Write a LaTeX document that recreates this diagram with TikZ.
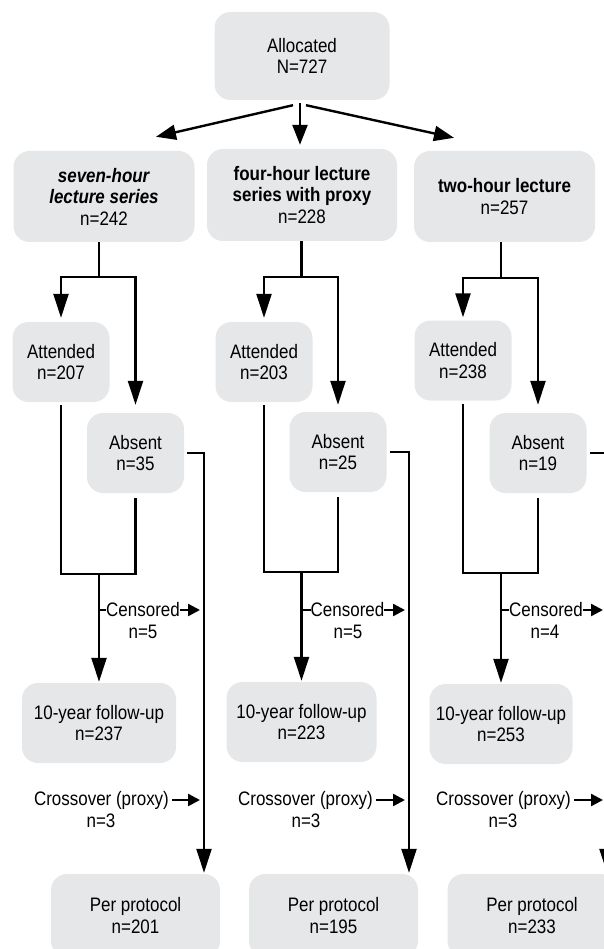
\documentclass[tikz,border=0pt]{standalone}
\usepackage{fontspec}
\setmainfont{Liberation Sans}[FakeStretch=0.87]
\usetikzlibrary{arrows.meta}
\definecolor{boxgray}{RGB}{230,231,232}

\begin{document}
\begin{tikzpicture}[line join=miter,>={Triangle[length=24pt,width=15pt]},x=1pt,y=-1pt,
	box/.style={fill=boxgray,rounded corners=16pt,inner sep=0pt,align=center,font=\fontsize{19.5}{21.5}\selectfont},
	lbl/.style={inner sep=0pt,align=center,font=\fontsize{19.5}{21.5}\selectfont},
	link/.style={line width=2.4pt},
	outarrow/.style={line width=2.4pt,-{Triangle[length=12pt,width=12pt]},shorten >=4pt}]
			\useasboundingbox (0,0) rectangle (604,949);
			\clip (0,0) rectangle (604,949);
			%%%%%%%%%%%%%%% B O X E S %%%%%%%%%%%%%%%%
			%top
			\node[box,minimum width=175pt,minimum height=88pt] (alloc) at (302,56) {Allocated\\N=727};
			%groups
			\node[box,minimum width=181pt,minimum height=91pt] (g7) at (104,196.5) {\textbf{\textit{seven-hour}}\\\textbf{\textit{lecture series}}\\n=242};
			\node[box,minimum width=190pt,minimum height=92pt] (g4) at (302,195) {\textbf{four-hour lecture}\\\textbf{series with proxy}\\n=228};
			\node[box,minimum width=181pt,minimum height=91pt] (g2) at (504.5,196.5) {\textbf{two-hour lecture}\\n=257};
			%attended
			\node[box,minimum width=97pt,minimum height=80pt] (att7) at (61,362) {Attended\\n=207};
			\node[box,minimum width=97pt,minimum height=80pt] (att4) at (264,362) {Attended\\n=203};
			\node[box,minimum width=97pt,minimum height=80pt] (att2) at (463,360.5) {Attended\\n=238};
			%absent
			\node[box,minimum width=97pt,minimum height=80pt] (abs7) at (135.5,453) {Absent\\n=35};
			\node[box,minimum width=97pt,minimum height=80pt] (abs4) at (338,452) {Absent\\n=25};
			\node[box,minimum width=97pt,minimum height=80pt] (abs2) at (538,453) {Absent\\n=19};
			%follow-up
			\node[box,minimum width=154pt,minimum height=80pt] (fu7) at (99,723) {10-year follow-up\\n=237};
			\node[box,minimum width=150pt,minimum height=80pt] (fu4) at (301.5,722) {10-year follow-up\\n=223};
			\node[box,minimum width=143pt,minimum height=80pt] (fu2) at (501,724) {10-year follow-up\\n=253};
			%per protocol
			\node[box,minimum width=169pt,minimum height=83pt] (pp7) at (135.5,915.5) {Per protocol\\n=201};
			\node[box,minimum width=169pt,minimum height=83pt] (pp4) at (333.5,915.5) {Per protocol\\n=195};
			\node[box,minimum width=169pt,minimum height=83pt] (pp2) at (532,915.5) {Per protocol\\n=233};
			%%%%%%%%%%%%%%% J U N C T I O N S %%%%%%%%%%%%%%%%
			\coordinate (s7) at (99,277);
			\coordinate (s4) at (301.5,277);
			\coordinate (s2) at (501,278);
			\coordinate (m7) at (99,574);
			\coordinate (m4) at (301.5,572);
			\coordinate (m2) at (501,573);
			\coordinate (r7) at (204,453);
			\coordinate (r4) at (409,453);
			\coordinate (r2) at (607,453);
			%%%%%%%%%%%%%%% A R R O W S %%%%%%%%%%%%%%%%
			%allocation
			\draw [link,-{Triangle[length=20pt,width=15pt]}] ([shift={(-9pt,-5pt)}]alloc.south) -- ([shift={(52pt,14pt)}]g7.north);
			\draw [link,-{Triangle[length=20pt,width=15pt]}] ([shift={(-2pt,-3pt)}]alloc.south) -- ([shift={(-2pt,4pt)}]g4.north);
			\draw [link,-{Triangle[length=20pt,width=15pt]}] ([shift={(4pt,-5pt)}]alloc.south) -- ([shift={(-50.5pt,13pt)}]g2.north);
			%column 1
			\draw [link] (g7.south -| s7) -- (s7);
			\draw [link,->,shorten >=4pt] (s7) -| (att7.north);
			\draw [link,->,shorten >=8pt] (s7) -| (abs7.north);
			\draw [link,shorten <=3pt,shorten >=5pt] (att7.south) |- (m7) -| (abs7.south);
			\draw [link,->,shorten >=1pt] (m7) -- (fu7.north);
			\draw [link,->,shorten <=3pt,shorten >=1pt] (abs7.east) -| (pp7.north -| r7);
			%column 2
			\draw [link] (g4.south -| s4) -- (s4);
			\draw [link,->,shorten >=4pt] (s4) -| (att4.north);
			\draw [link,->,shorten >=7pt] (s4) -| (abs4.north);
			\draw [link,shorten <=3pt,shorten >=5pt] (att4.south) |- (m4) -| (abs4.south);
			\draw [link,->,shorten >=1pt] (m4) -- (fu4.north);
			\draw [link,->,shorten <=3pt,shorten >=1pt] (abs4.east) -| (pp4.north -| r4);
			%column 3
			\draw [link] (g2.south -| s2) -- (s2);
			\draw [link,->,shorten >=3pt] (s2) -| (att2.north);
			\draw [link,->,shorten >=8pt] (s2) -| (abs2.north);
			\draw [link,shorten <=3pt,shorten >=5pt] (att2.south) |- (m2) -| (abs2.south);
			\draw [link,->,shorten >=1pt] (m2) -- (fu2.north);
			\draw [link,->,shorten <=3pt,shorten >=1pt] (abs2.east) -| (pp2.north -| r2);
			%%%%%%%%%%%%%%% T A G S %%%%%%%%%%%%%%%%
			%censored
			\node[lbl] (cens7) at (143,610) {Censored};
			\node[lbl] (ncens7) at (143,632) {n=5};
			\node[lbl] (cens4) at (347.5,610) {Censored};
			\node[lbl] (ncens4) at (348,632) {n=5};
			\node[lbl] (cens2) at (546,610) {Censored};
			\node[lbl] (ncens2) at (545,632) {n=4};
			\draw [link] (cens7.west -| m7) -- (cens7.west);
			\draw [link] (cens4.west -| m4) -- (cens4.west);
			\draw [link] (cens2.west -| m2) -- (cens2.west);
			\draw [outarrow] (cens7.east) -- (cens7.east -| r7);
			\draw [outarrow] (cens4.east) -- (cens4.east -| r4);
			\draw [outarrow] (cens2.east) -- (cens2.east -| r2);
			%crossover
			\node[lbl] (cross7) at (101.5,800) {Crossover (proxy)};
			\node[lbl] (ncross7) at (101,821) {n=3};
			\node[lbl] (cross4) at (305.5,800) {Crossover (proxy)};
			\node[lbl] (ncross4) at (306,821) {n=3};
			\node[lbl] (cross2) at (503.5,800) {Crossover (proxy)};
			\node[lbl] (ncross2) at (503,821) {n=3};
			\draw [outarrow,shorten <=3pt] (cross7.east) -- (cross7.east -| r7);
			\draw [outarrow,shorten <=3pt] (cross4.east) -- (cross4.east -| r4);
			\draw [outarrow,shorten <=3pt] (cross2.east) -- (cross2.east -| r2);
\end{tikzpicture}
\end{document}
